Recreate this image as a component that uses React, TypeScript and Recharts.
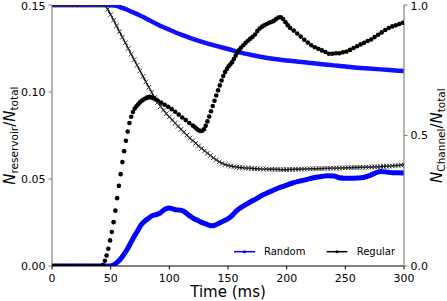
import React from "react";
import { LineChart, Line, XAxis, YAxis, Legend } from "recharts";

const FONT = "'DejaVu Sans', sans-serif";

// Random reservoir (blue, left axis)
const randResT = [0, 10, 20, 30, 40, 45, 50, 55, 60, 65, 70, 75, 80, 90, 100, 110, 120, 130, 140, 150, 160, 170, 180, 190, 200, 210, 220, 230, 240, 250, 260, 270, 280, 290, 300];
const randResV = [0.15, 0.15, 0.15, 0.15, 0.15, 0.15, 0.1499, 0.1495, 0.1483, 0.147, 0.1455, 0.144, 0.1423, 0.1388, 0.1358, 0.133, 0.1306, 0.1284, 0.1265, 0.1247, 0.1228, 0.1213, 0.12, 0.119, 0.1181, 0.1174, 0.1167, 0.116, 0.1153, 0.1146, 0.114, 0.1135, 0.113, 0.1125, 0.112];

// Regular reservoir (black x, left axis)
const regResT = [0, 2.5, 5, 7.5, 10, 12.5, 15, 17.5, 20, 22.5, 25, 27.5, 30, 32.5, 35, 37.5, 40, 42.5, 45, 47.5, 50, 52.5, 55, 57.5, 60, 62.5, 65, 67.5, 70, 72.5, 75, 77.5, 80, 82.5, 85, 87.5, 90, 92.5, 95, 97.5, 100, 102.5, 105, 107.5, 110, 112.5, 115, 117.5, 120, 122.5, 125, 127.5, 130, 132.5, 135, 137.5, 140, 142.5, 145, 147.5, 150, 152.5, 155, 157.5, 160, 162.5, 165, 167.5, 170, 172.5, 175, 177.5, 180, 182.5, 185, 187.5, 190, 192.5, 195, 197.5, 200, 202.5, 205, 207.5, 210, 212.5, 215, 217.5, 220, 222.5, 225, 227.5, 230, 232.5, 235, 237.5, 240, 242.5, 245, 247.5, 250, 252.5, 255, 257.5, 260, 262.5, 265, 267.5, 270, 272.5, 275, 277.5, 280, 282.5, 285, 287.5, 290, 292.5, 295, 297.5, 300];
const regResV = [0.15, 0.15, 0.15, 0.15, 0.15, 0.15, 0.15, 0.15, 0.15, 0.15, 0.15, 0.15, 0.15, 0.15, 0.15, 0.15, 0.15, 0.15, 0.15, 0.1475, 0.1445, 0.1413, 0.138, 0.1347, 0.1315, 0.1283, 0.125, 0.1218, 0.1186, 0.1154, 0.1122, 0.109, 0.1058, 0.1027, 0.0997, 0.0968, 0.094, 0.0917, 0.0896, 0.0876, 0.0857, 0.0839, 0.0821, 0.0803, 0.0786, 0.0769, 0.0752, 0.0736, 0.072, 0.0705, 0.069, 0.0676, 0.0662, 0.0648, 0.0635, 0.0622, 0.061, 0.0599, 0.059, 0.0583, 0.0578, 0.0574, 0.0571, 0.0568, 0.0566, 0.0565, 0.0563, 0.0562, 0.0561, 0.056, 0.0559, 0.0558, 0.0557, 0.0557, 0.0556, 0.0556, 0.0555, 0.0555, 0.0554, 0.0554, 0.0554, 0.0555, 0.0555, 0.0556, 0.0556, 0.0557, 0.0557, 0.0558, 0.0558, 0.0559, 0.0559, 0.056, 0.056, 0.0561, 0.0561, 0.0562, 0.0562, 0.0563, 0.0563, 0.0564, 0.0564, 0.0565, 0.0565, 0.0566, 0.0566, 0.0567, 0.0567, 0.0568, 0.0568, 0.0569, 0.057, 0.057, 0.0571, 0.0572, 0.0573, 0.0574, 0.0575, 0.0577, 0.0578, 0.058, 0.0582];

// Random channel (blue, right axis)
const randChT = [0, 10, 20, 30, 40, 50, 52, 55, 58, 61, 64, 67, 70, 73, 76, 79, 82, 85, 88, 91, 94, 97, 100, 103, 106, 109, 112, 115, 118, 121, 124, 127, 130, 133, 136, 139, 142, 145, 148, 151, 154, 157, 160, 165, 170, 175, 180, 185, 190, 195, 200, 205, 210, 215, 220, 225, 230, 235, 240, 245, 250, 255, 260, 265, 270, 275, 280, 285, 290, 295, 300];
const randChV = [0, 0, 0, 0, 0, 0, 0.003, 0.012, 0.025, 0.042, 0.063, 0.088, 0.113, 0.135, 0.158, 0.172, 0.182, 0.192, 0.196, 0.2, 0.21, 0.219, 0.222, 0.219, 0.215, 0.214, 0.211, 0.2, 0.19, 0.181, 0.175, 0.168, 0.163, 0.158, 0.154, 0.157, 0.163, 0.17, 0.176, 0.184, 0.196, 0.21, 0.221, 0.235, 0.248, 0.26, 0.273, 0.283, 0.293, 0.302, 0.31, 0.318, 0.324, 0.329, 0.335, 0.34, 0.343, 0.346, 0.345, 0.338, 0.336, 0.336, 0.337, 0.339, 0.345, 0.355, 0.362, 0.36, 0.357, 0.357, 0.356];

// Regular channel (black dots, right axis)
const regChT = [0, 3, 6, 9, 12, 15, 18, 21, 24, 27, 30, 33, 36, 39, 42, 43.5, 45, 46.5, 48, 49.5, 51, 52.5, 54, 55.5, 57, 58.5, 60, 61.5, 63, 64.5, 66, 67.5, 69, 70.5, 72, 73.5, 75, 76.5, 78, 79.5, 81, 82.5, 84, 85.5, 87, 88.5, 90, 93, 96, 99, 102, 105, 108, 111, 114, 117, 120, 122, 123.5, 125, 126.5, 128, 129.5, 131, 132.5, 134, 135.5, 137, 138.5, 140, 141.5, 143, 144.5, 146, 147.5, 149, 150.5, 152, 153.5, 155, 156.5, 158, 159.5, 161, 163, 165, 167, 169, 171, 173, 175, 177, 179, 181, 183, 185, 187, 189, 191, 193, 195, 197, 199, 201, 203, 206, 209, 212, 215, 218, 221, 224, 227, 230, 233, 236, 239, 242, 245, 248, 251, 254, 257, 260, 263, 266, 269, 272, 275, 278, 281, 284, 287, 290, 293, 296, 299];
const regChV = [0, 0, 0, 0, 0, 0, 0, 0, 0, 0, 0, 0, 0, 0, 0, 0.004, 0.02, 0.04, 0.066, 0.098, 0.13, 0.168, 0.212, 0.26, 0.307, 0.352, 0.398, 0.44, 0.48, 0.515, 0.548, 0.572, 0.59, 0.603, 0.612, 0.62, 0.627, 0.633, 0.638, 0.642, 0.645, 0.647, 0.647, 0.645, 0.642, 0.638, 0.634, 0.626, 0.618, 0.61, 0.601, 0.591, 0.58, 0.569, 0.559, 0.548, 0.538, 0.531, 0.525, 0.52, 0.517, 0.518, 0.524, 0.537, 0.554, 0.573, 0.593, 0.613, 0.633, 0.653, 0.673, 0.692, 0.711, 0.728, 0.743, 0.755, 0.765, 0.773, 0.781, 0.793, 0.806, 0.817, 0.827, 0.836, 0.846, 0.855, 0.863, 0.871, 0.878, 0.887, 0.9, 0.91, 0.917, 0.922, 0.927, 0.932, 0.935, 0.939, 0.946, 0.952, 0.953, 0.946, 0.934, 0.922, 0.912, 0.902, 0.891, 0.879, 0.867, 0.856, 0.846, 0.838, 0.832, 0.826, 0.82, 0.813, 0.813, 0.815, 0.815, 0.819, 0.822, 0.828, 0.835, 0.842, 0.849, 0.855, 0.862, 0.868, 0.877, 0.886, 0.895, 0.904, 0.912, 0.918, 0.922, 0.927, 0.932];

const xTicks = [0, 50, 100, 150, 200, 250, 300];
const leftTicks = [0, 0.05, 0.1, 0.15];
const rightTicks = [0, 0.5, 1.0];
const legendNames = ["Random", "Regular"];

const zip = (ts: number[], vs: number[]) => ts.map((t, i) => ({ t, v: vs[i] }));

const randResData = zip(randResT, randResV);
const regResData = zip(regResT, regResV);
const randChData = zip(randChT, randChV);
const regChData = zip(regChT, regChV);

const XMarker = (props: any) => {
  const { cx, cy, index } = props;
  if (cx == null || cy == null) return <g key={`x${index}`} />;
  const s = 2.3;
  return (
    <path
      key={`x${index}`}
      d={`M${cx - s},${cy - s}L${cx + s},${cy + s}M${cx - s},${cy + s}L${cx + s},${cy - s}`}
      stroke="#333"
      strokeWidth={1}
      fill="none"
    />
  );
};

const LeftLabel = () => (
  <text
    x={15}
    y={135.6}
    transform="rotate(-90, 15, 135.6)"
    textAnchor="middle"
    fontFamily={FONT}
    fill="#000"
  >
    <tspan fontSize={15} fontStyle="italic">N</tspan>
    <tspan fontSize={10.5} dy={3.5}>reservoir</tspan>
    <tspan fontSize={15} dy={-3.5}>/</tspan>
    <tspan fontSize={15} fontStyle="italic">N</tspan>
    <tspan fontSize={10.5} dy={3.5}>total</tspan>
  </text>
);

const RightLabel = () => (
  <text
    x={442}
    y={135.6}
    transform="rotate(-90, 442, 135.6)"
    textAnchor="middle"
    fontFamily={FONT}
    fill="#000"
  >
    <tspan fontSize={15} fontStyle="italic">N</tspan>
    <tspan fontSize={10.5} dy={3.5}>Channel</tspan>
    <tspan fontSize={15} dy={-3.5}>/</tspan>
    <tspan fontSize={15} fontStyle="italic">N</tspan>
    <tspan fontSize={10.5} dy={3.5}>total</tspan>
  </text>
);

const XLabel = () => (
  <text x={228} y={296.5} textAnchor="middle" fontFamily={FONT} fontSize={15} fill="#000">
    Time (ms)
  </text>
);

const LegendContent = () => (
  <svg width={180} height={22} style={{ display: "block" }}>
    <line x1={9} x2={30} y1={10.7} y2={10.7} stroke="#0000ff" strokeWidth={1.5} />
    <circle cx={19.5} cy={10.7} r={1.5} fill="#0000ff" />
    <text x={39} y={14.3} fontFamily={FONT} fontSize={10} fill="#000">{legendNames[0]}</text>
    <line x1={101.7} x2={122.3} y1={10.7} y2={10.7} stroke="#000" strokeWidth={1.5} />
    <circle cx={112} cy={10.7} r={1.5} fill="#000" />
    <text x={131.7} y={14.3} fontFamily={FONT} fontSize={10} fill="#000">{legendNames[1]}</text>
  </svg>
);

const tickStyle = { fontFamily: FONT, fontSize: 11, fill: "#000" };

export default function App() {
  return (
    <div style={{ position: "absolute", left: 0, top: 0, width: 447, height: 301, background: "#fff" }}>
      <LineChart width={447} height={301} margin={{ top: 5, right: 0, bottom: 0, left: 0 }}>
        <XAxis
          dataKey="t"
          type="number"
          domain={[0, 300]}
          ticks={xTicks}
          allowDataOverflow
          height={35}
          tickSize={3.5}
          tickMargin={4.5}
          tick={tickStyle}
          axisLine={{ stroke: "#000", strokeWidth: 1 }}
          tickLine={{ stroke: "#000" }}
          label={{ content: XLabel }}
        />
        <XAxis
          xAxisId="top"
          orientation="top"
          dataKey="t"
          type="number"
          domain={[0, 300]}
          allowDataOverflow
          height={0}
          tick={false}
          tickLine={false}
          axisLine={{ stroke: "#000", strokeWidth: 1 }}
        />
        <YAxis
          yAxisId="left"
          type="number"
          domain={[0, 0.15]}
          ticks={leftTicks}
          allowDataOverflow
          width={52}
          tickSize={3.5}
          tickMargin={3}
          tick={tickStyle}
          tickFormatter={(v: number) => v.toFixed(2)}
          axisLine={{ stroke: "#808080", strokeWidth: 1.2 }}
          tickLine={{ stroke: "#808080" }}
          label={{ content: LeftLabel }}
        />
        <YAxis
          yAxisId="right"
          orientation="right"
          type="number"
          domain={[0, 1]}
          ticks={rightTicks}
          allowDataOverflow
          width={43}
          tickSize={3.5}
          tickMargin={3}
          tick={tickStyle}
          tickFormatter={(v: number) => v.toFixed(1)}
          axisLine={{ stroke: "#808080", strokeWidth: 1.2 }}
          tickLine={{ stroke: "#808080" }}
          label={{ content: RightLabel }}
        />
        <Line
          yAxisId="left"
          data={randResData}
          dataKey="v"
          type="monotone"
          stroke="#1010ff"
          strokeWidth={4.5}
          dot={false}
          activeDot={false}
          isAnimationActive={false}
        />
        <Line
          yAxisId="left"
          data={regResData}
          dataKey="v"
          type="linear"
          stroke="#000"
          strokeWidth={1.3}
          dot={XMarker}
          activeDot={false}
          isAnimationActive={false}
        />
        <Line
          yAxisId="right"
          data={randChData}
          dataKey="v"
          type="monotone"
          stroke="#0000ff"
          strokeWidth={5}
          dot={false}
          activeDot={false}
          isAnimationActive={false}
        />
        <Line
          yAxisId="right"
          data={regChData}
          dataKey="v"
          type="linear"
          stroke="none"
          dot={{ r: 2.3, fill: "#000", stroke: "none" }}
          activeDot={false}
          isAnimationActive={false}
        />
        <Legend
          layout="horizontal"
          verticalAlign="middle"
          align="center"
          content={LegendContent}
          wrapperStyle={{ position: "absolute", left: 225, top: 241, width: 180, height: 22 }}
        />
      </LineChart>
    </div>
  );
}
